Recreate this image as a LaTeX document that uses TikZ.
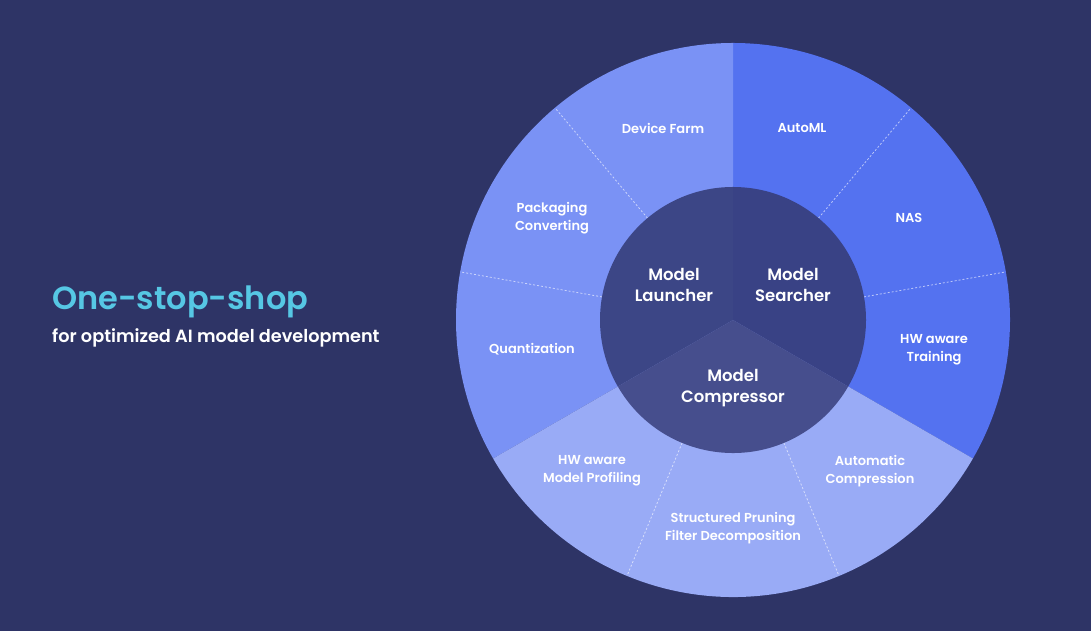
\documentclass[tikz,border=0pt]{standalone}
\usepackage{fontspec}
\setmainfont{Poppins}[BoldFont={Poppins SemiBold}]
\usetikzlibrary{calc}
\definecolor{bgc}{RGB}{46,52,102}
\definecolor{osearch}{RGB}{84,114,240}
\definecolor{olaunch}{RGB}{122,146,245}
\definecolor{ocomp}{RGB}{153,171,246}
\definecolor{isearch}{RGB}{57,66,133}
\definecolor{ilaunch}{RGB}{60,70,134}
\definecolor{icomp}{RGB}{70,78,141}
\definecolor{titlec}{RGB}{86,199,228}
\begin{document}
\begin{tikzpicture}[x=1pt,y=1pt,
  lab/.style={text=white,font=\bfseries\fontsize{13}{18}\selectfont,align=center,inner sep=0pt},
  core/.style={text=white,font=\bfseries\fontsize{16.5}{20.5}\selectfont,align=center,inner sep=0pt},
  sep/.style={white,opacity=0.6,line width=0.8pt,dash pattern=on 2pt off 2pt}]
\useasboundingbox (0,0) rectangle (1091,631);
\fill[bgc] (0,0) rectangle (1091,631);
\coordinate (C) at (733,311);
\def\R{277}
\def\r{133}
% outer ring sectors
\fill[osearch] (C) -- ++(90:\R) arc[start angle=90,end angle=-30,radius=\R] -- cycle;
\fill[olaunch] (C) -- ++(90:\R) arc[start angle=90,end angle=210,radius=\R] -- cycle;
\fill[ocomp] (C) -- ++(210:\R) arc[start angle=210,end angle=330,radius=\R] -- cycle;
% dotted separators
\foreach \a in {50,10,130,170,247.5,292.5}{
  \draw[sep] ($(C)+(\a:\r)$) -- ($(C)+(\a:\R)$);
}
% inner circle sectors
\fill[isearch] (C) -- ++(90:\r) arc[start angle=90,end angle=-30,radius=\r] -- cycle;
\fill[ilaunch] (C) -- ++(90:\r) arc[start angle=90,end angle=210,radius=\r] -- cycle;
\fill[icomp] (C) -- ++(210:\r) arc[start angle=210,end angle=330,radius=\r] -- cycle;
% outer labels
\node[lab] (df) at (663,503) {Device Farm};
\node[lab] (aml) at (802,503) {AutoML};
\node[lab] (nas) at (909,413) {NAS};
\node[lab] (hwt) at (934,281) {HW aware\\Training};
\node[lab] (pc) at (552,413) {Packaging\\Converting};
\node[lab] (qt) at (532,282) {Quantization};
\node[lab] (hwp) at (592,160) {HW aware\\Model Profiling};
\node[lab] (sp) at (733,103) {Structured Pruning\\Filter Decomposition};
\node[lab] (ac) at (870,160) {Automatic\\Compression};
% inner labels
\node[core] (ml) at (674,346) {Model\\Launcher};
\node[core] (ms) at (793,346) {Model\\Searcher};
\node[core] (mc) at (733,243) {Model\\Compressor};
% title
\node[anchor=base west,inner sep=0pt,text=titlec,font=\fontsize{32}{38}\selectfont\bfseries] (t1) at (52,321) {One-stop-shop};
\node[anchor=base west,inner sep=0pt,text=white,font=\bfseries\fontsize{17.7}{21}\selectfont] (t2) at (52,288) {for optimized AI model development};
\end{tikzpicture}
\end{document}
